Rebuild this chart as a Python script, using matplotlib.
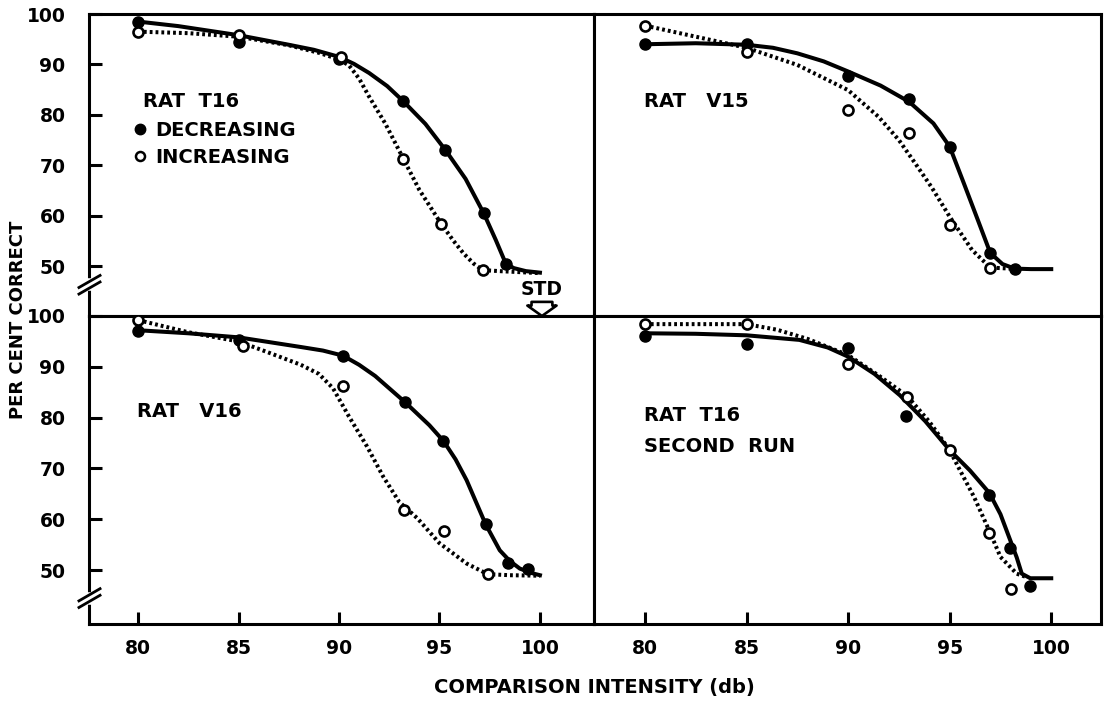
import matplotlib
matplotlib.use("Agg")
import matplotlib.pyplot as plt
from matplotlib.lines import Line2D

plt.rcParams["font.family"] = ["DejaVu Sans"]
plt.rcParams["font.weight"] = "bold"

# --- RAT T16 (top left) ---
t16_dec_x = [80, 85, 90, 93.2, 95.3, 97.2, 98.3]
t16_dec_y = [98.5, 94.5, 91.0, 82.7, 73.0, 60.5, 50.5]
t16_inc_x = [80, 85, 90.1, 93.2, 95.1, 97.15]
t16_inc_y = [96.5, 95.8, 91.4, 71.3, 58.3, 49.2]
t16_dec_fit_x = [80, 82, 85, 87.5, 88.75, 90, 90.75, 91.5, 92.4, 93.2, 94.3, 95.3, 96.3,
                 97.2, 97.8, 98.3, 98.7, 99.3, 100]
t16_dec_fit_y = [98.5, 97.6, 95.8, 93.9, 92.9, 91.5, 90.1, 88.3, 85.7, 82.7, 78.2, 73.0, 67.3,
                 60.5, 55.2, 50.5, 49.6, 49.0, 48.7]
t16_inc_fit_x = [80, 82.5, 85, 87.5, 89, 90, 90.5, 91.0, 91.5, 92.3, 93.2, 94.0, 95.1, 95.7,
                 96.2, 96.7, 97.15, 98, 99, 100]
t16_inc_fit_y = [96.5, 96.2, 95.5, 93.8, 92.3, 91.0, 89.8, 87.2, 83.6, 78.3, 71.3, 65.1, 58.3, 55.0,
                 52.5, 50.5, 49.2, 49.0, 48.8, 48.6]

# --- RAT V15 (top right) ---
v15_dec_x = [80, 85, 90, 93, 95, 97, 98.2]
v15_dec_y = [94.0, 94.0, 87.8, 83.1, 73.7, 52.6, 49.5]
v15_inc_x = [80, 85, 90, 93, 95, 97]
v15_inc_y = [97.7, 92.5, 81.0, 76.4, 58.1, 49.7]
v15_dec_fit_x = [80, 82.5, 85, 86.3, 87.5, 88.8, 90, 91.6, 93, 94.2, 95, 95.7, 96.4, 97, 97.6,
                 98.2, 99, 100]
v15_dec_fit_y = [94.0, 94.2, 93.9, 93.3, 92.2, 90.6, 88.6, 85.8, 82.6, 78.3, 73.7, 66.4, 59.0, 52.6,
                 50.4, 49.5, 49.4, 49.4]
v15_inc_fit_x = [80, 82.5, 85, 87.5, 90, 91.5, 92.5, 93.3, 94.1, 95, 96.1, 97, 98, 98.3]
v15_inc_fit_y = [97.7, 95.5, 93.3, 89.9, 84.9, 79.6, 75.0, 70.4, 65.7, 59.8, 53.2, 49.7, 49.5, 49.4]

# --- RAT V16 (bottom left) ---
v16_dec_x = [80, 85, 90.2, 93.3, 95.2, 97.3, 98.4, 99.4]
v16_dec_y = [97.1, 95.3, 92.2, 83.0, 75.4, 59.0, 51.5, 50.2]
v16_inc_x = [80, 85.2, 90.2, 93.25, 95.25, 97.4]
v16_inc_y = [99.2, 94.0, 86.2, 61.9, 57.7, 49.2]
v16_dec_fit_x = [80, 82.5, 85, 88.1, 89.2, 90.2, 91, 91.8, 93.3, 94.5, 95.2, 95.8, 96.35, 97.3,
                 98.0, 98.5, 99.0, 99.7, 100]
v16_dec_fit_y = [97.2, 96.6, 95.8, 93.9, 93.2, 92.2, 90.4, 88.2, 83.0, 78.5, 75.4, 71.8, 67.7, 59.0,
                 53.9, 51.8, 50.3, 49.3, 49.0]
v16_inc_fit_x = [80, 82.5, 85, 86.5, 88.1, 89.0, 89.7, 90.5, 91.4, 92.2, 93.0, 93.9, 95.0, 96.35,
                 97.4, 98.5, 100]
v16_inc_fit_y = [99.2, 96.8, 95.0, 92.8, 90.4, 88.6, 85.8, 80.2, 74.3, 68.4, 63.4, 60.2, 55.3, 51.3,
                 49.2, 49.0, 48.9]

# --- RAT T16 second run (bottom right) ---
t16b_dec_x = [80, 85, 90, 92.85, 96.95, 97.98, 98.97]
t16b_dec_y = [96.1, 94.4, 93.8, 80.3, 64.8, 54.4, 46.9]
t16b_inc_x = [80, 85, 90, 92.9, 95.0, 96.96, 98.03]
t16b_inc_y = [98.4, 98.4, 90.5, 84.1, 73.6, 57.3, 46.2]
t16b_dec_fit_x = [80, 82.5, 85, 87.6, 89, 90, 91.3, 92.55, 93.8, 95, 96, 96.95, 97.5, 97.98,
                  98.3, 98.55, 98.97, 100]
t16b_dec_fit_y = [96.6, 96.5, 96.2, 95.3, 93.8, 92.0, 88.6, 84.4, 79.3, 73.6, 69.6, 65.2, 61.0, 55.9,
                  52.5, 49.3, 48.4, 48.4]
t16b_inc_fit_x = [80, 82.5, 85, 86.5, 88, 90, 91.5, 92.9, 94, 95, 95.5, 96.2, 97, 97.5, 98.3, 98.8]
t16b_inc_fit_y = [98.4, 98.4, 98.4, 97.3, 95.5, 92.3, 88.3, 84.3, 79.2, 73.6, 69.7, 64.4, 57.3, 52.6,
                  49.3, 48.6]

y_ticks = [50, 60, 70, 80, 90, 100]
x_ticks = [80, 85, 90, 95, 100]

fig = plt.figure(figsize=(11.06, 7.02), dpi=100)
W, H = 1106, 702


def px_axes(x0, y0, x1, y1):
    return fig.add_axes([x0 / W, 1 - y1 / H, (x1 - x0) / W, (y1 - y0) / H])


ax_tl = px_axes(89, 14, 594, 316)
ax_tr = px_axes(594, 14, 1101, 316)
ax_bl = px_axes(89, 316, 594, 624)
ax_br = px_axes(594, 316, 1101, 624)

panels = [
    (ax_tl, t16_dec_fit_x, t16_dec_fit_y, t16_inc_fit_x, t16_inc_fit_y,
     t16_dec_x, t16_dec_y, t16_inc_x, t16_inc_y, (77.56, 102.69), (40.1, 100)),
    (ax_tr, v15_dec_fit_x, v15_dec_fit_y, v15_inc_fit_x, v15_inc_fit_y,
     v15_dec_x, v15_dec_y, v15_inc_x, v15_inc_y, (77.49, 102.45), (40.1, 100)),
    (ax_bl, v16_dec_fit_x, v16_dec_fit_y, v16_inc_fit_x, v16_inc_fit_y,
     v16_dec_x, v16_dec_y, v16_inc_x, v16_inc_y, (77.56, 102.69), (39.4, 100)),
    (ax_br, t16b_dec_fit_x, t16b_dec_fit_y, t16b_inc_fit_x, t16b_inc_fit_y,
     t16b_dec_x, t16b_dec_y, t16b_inc_x, t16b_inc_y, (77.49, 102.45), (39.4, 100)),
]

for ax, dfx, dfy, ifx, ify, dx, dy, ix, iy, xl, yl in panels:
    ax.plot(ifx, ify, color="black", lw=2.9, ls=(0, (0.7, 0.75)),
            dash_capstyle="butt", zorder=2)
    ax.plot(dfx, dfy, color="black", lw=2.9, solid_joinstyle="round", zorder=3)
    ax.plot(dx, dy, "o", color="black", ms=8, zorder=4)
    ax.plot(ix, iy, "o", mfc="white", mec="black", mew=1.9, ms=7.2, zorder=5)
    ax.set_xlim(*xl)
    ax.set_ylim(*yl)
    for s in ax.spines.values():
        s.set_linewidth(2.2)
    ax.tick_params(direction="in", length=9, width=2.2, labelsize=13.5)

# ticks only on the outer edges
for ax in (ax_tl, ax_bl):
    ax.set_yticks(y_ticks)
    ax.tick_params(axis="y", pad=17)
for ax in (ax_tr, ax_br):
    ax.set_yticks([])
for ax in (ax_bl, ax_br):
    ax.set_xticks(x_ticks)
    ax.tick_params(axis="x", pad=11)
for ax in (ax_tl, ax_tr):
    ax.set_xticks([])

# panel labels
lab = dict(fontsize=14, va="center", ha="left")
ax_tl.text(80.25, 82.6, "RAT  T16", **lab)
ax_tr.text(79.95, 82.7, "RAT   V15", **lab)
ax_bl.text(79.95, 81.2, "RAT   V16", **lab)
ax_br.text(79.95, 80.5, "RAT  T16", **lab)
ax_br.text(79.95, 74.3, "SECOND  RUN", **lab)

handles = [Line2D([], [], marker="o", ls="none", color="black", ms=7.5),
           Line2D([], [], marker="o", ls="none", mfc="white", mec="black", mew=1.8, ms=6.5)]
ax_tl.legend(handles, ["DECREASING", "INCREASING"], loc="upper left",
             bbox_to_anchor=(0.089, 0.645), frameon=False, borderaxespad=0,
             borderpad=0, handlelength=0.6, handletextpad=0.5, labelspacing=0.38,
             prop={"size": 14, "weight": "bold"})

# STD marker
ax_tl.text(100.1, 45.4, "STD", fontsize=13.5, ha="center", va="center")
ax_tl.annotate("", xy=(100.1, 40.1), xytext=(100.1, 42.9),
               arrowprops=dict(arrowstyle="simple,head_length=0.5,head_width=1.4,tail_width=1.0",
                               fc="white", ec="black", lw=1.9, mutation_scale=15,
                               shrinkA=0, shrinkB=0), annotation_clip=False)

# axis break marks on the left spine
for ax, yc in ((ax_tl, 46.3), (ax_bl, 44.5)):
    x0 = ax.get_xlim()[0]
    ax.plot([x0, x0], [yc - 0.7, yc + 0.7], color="white", lw=4, clip_on=False, zorder=6)
    for off in (-0.65, 0.65):
        ax.plot([x0 - 0.5, x0 + 0.55], [yc + off - 1.2, yc + off + 1.2],
                color="black", lw=2.0, clip_on=False, zorder=7)

fig.text(0.016, 0.544, "PER CENT CORRECT", rotation=90, ha="center", va="center", fontsize=13)
fig.text(0.537, 0.021, "COMPARISON INTENSITY (db)", ha="center", va="center", fontsize=14)

fig.savefig("out.png", dpi=100)
